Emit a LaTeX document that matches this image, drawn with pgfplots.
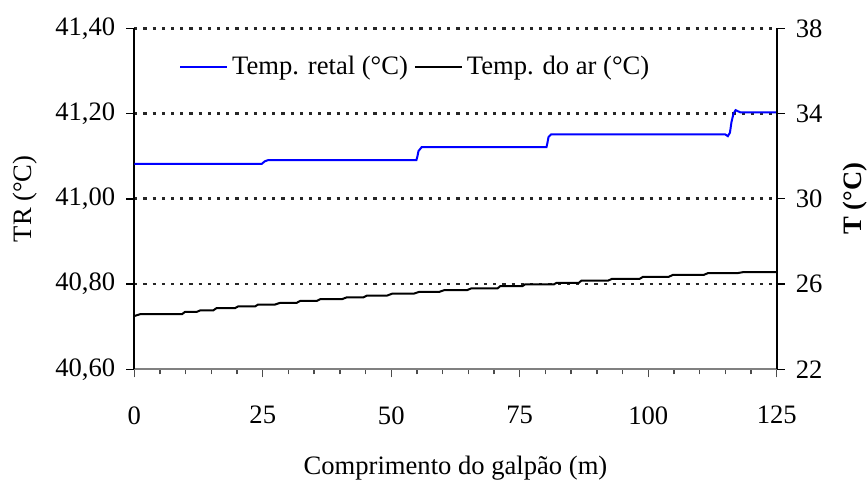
\documentclass[border=0pt]{standalone}
\usepackage{fontspec}
\setmainfont{Liberation Serif}
\usepackage{pgfplots}
\pgfplotsset{compat=1.18}

\pgfplotsset{
  base/.style={
    width=321.2pt, height=170.5pt, scale only axis,
    xmin=0, xmax=125,
    font=\fontsize{13.3}{16}\selectfont,
    /pgf/number format/assume math mode=true,
    tick align=outside, major tick length=4pt, minor tick length=2.5pt,
  }
}

\begin{document}
\begin{tikzpicture}
\useasboundingbox (-67.15pt,-56.35pt) rectangle (366.85pt,184.65pt);
% eixo esquerdo: temperatura retal
\begin{axis}[base,
  axis x line*=bottom, axis y line*=left,
  x axis line style={gray, line width=1pt, -}, y axis line style={black, line width=0.8pt, -},
  xtick={0,25,...,125}, minor x tick num=4,
  x tick style={gray!60!black, line width=0.7pt},
  y tick style={black, line width=0.7pt},
  ymin=40.6, ymax=41.4,
  ytick={40.8,41,41.2,41.4}, extra y ticks={40.6}, extra y tick style={grid=none},
  ymajorgrids,
  grid style={black!85, line width=1.4pt, dash pattern=on 1.6pt off 3pt},
  yticklabel style={/pgf/number format/use comma, /pgf/number format/fixed,
    /pgf/number format/fixed zerofill, /pgf/number format/precision=2, xshift=-2pt},
  xticklabel style={yshift=-11pt},
  ylabel={TR (°C)}, ylabel style={at={(-0.170,0.5)}, anchor=center},
  xlabel={Comprimento do galpão (m)}, xlabel style={at={(0.5,-0.29)}, anchor=center},
]
\addplot[blue, line width=1pt] coordinates {
  (0,41.082) (24.8,41.082) (25.4,41.088) (26.1,41.091) (54.9,41.091)
  (55.1,41.100) (55.3,41.112) (55.9,41.121) (80.2,41.121) (80.4,41.132)
  (80.6,41.145) (81.1,41.151) (115.0,41.151) (115.5,41.147) (115.9,41.155)
  (116.2,41.180) (116.6,41.200) (117.0,41.208) (117.9,41.203) (125,41.203)
};
\end{axis}
% eixo direito: temperatura do ar
\begin{axis}[base,
  axis x line=none, axis y line*=right,
  y axis line style={black, line width=0.8pt, -},
  y tick style={black, line width=0.7pt},
  ymin=22, ymax=38, ytick={22,26,30,34,38},
  yticklabel style={xshift=2pt},
  ylabel={\bfseries T (°C)}, ylabel style={at={(1.1215,0.5)}, anchor=center},
  legend style={draw=none, fill=none, at={(0.06,0.886)}, anchor=west,
    font=\fontsize{13.3}{16}\selectfont},
  legend columns=2,
  legend image code/.code={\draw[#1] (0pt,0pt) -- (23.5pt,0pt);},
  /tikz/every even column/.append style={column sep=1pt},
]
\addlegendimage{blue, line width=1pt}
\addplot[black, line width=1pt] coordinates {
  (0,24.50) (1.2,24.59) (9.3,24.59) (9.9,24.70) (12.2,24.70) (12.9,24.77)
  (15.4,24.77) (16.0,24.87) (19.6,24.87) (20.2,24.95) (23.5,24.95) (24.1,25.04)
  (27.4,25.04) (28.4,25.12) (31.6,25.12) (32.3,25.21) (35.5,25.21) (36.2,25.29)
  (40.4,25.29) (41.4,25.38) (44.6,25.38) (45.3,25.46) (49.2,25.46) (50.2,25.55)
  (54.4,25.55) (55.4,25.63) (59.3,25.63) (60.4,25.72) (64.8,25.72) (65.6,25.80)
  (70.7,25.80) (71.2,25.90) (75.5,25.90) (76.0,25.98) (81.6,25.98) (82.2,26.06)
  (86.5,26.06) (87.0,26.16) (92.2,26.16) (92.9,26.24) (98.3,26.24) (99.0,26.34)
  (104.0,26.34) (104.8,26.43) (110.8,26.43) (111.6,26.51) (117.3,26.51)
  (118.5,26.56) (125,26.56)
};
\legend{Temp. retal (°C), Temp. do ar (°C)}
\end{axis}
\end{tikzpicture}
\end{document}
